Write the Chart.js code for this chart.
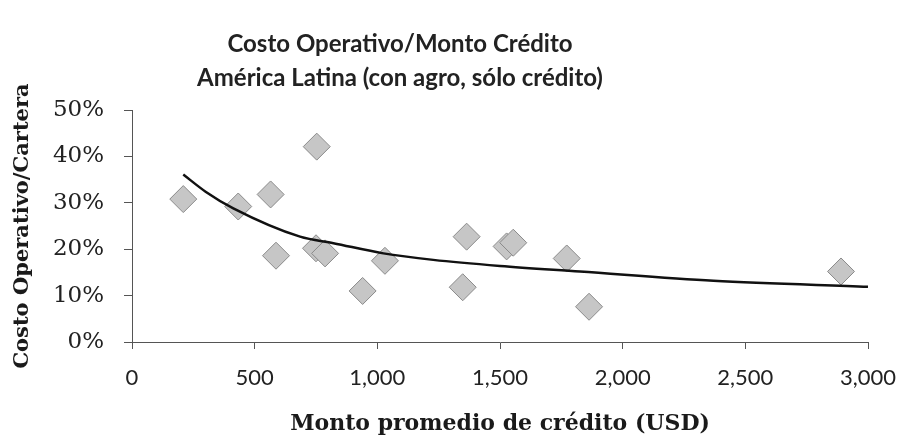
<!DOCTYPE html>
<html>
<head>
<meta charset="utf-8">
<script src="https://cdn.jsdelivr.net/npm/chart.js@4"></script>
<style>
  html, body { margin: 0; padding: 0; background: #fff; }
  #wrap { position: relative; width: 903px; height: 437px; }
</style>
</head>
<body>
<div id="wrap"><canvas id="costChart"></canvas></div>
<script>
// scatter: average loan size (USD) vs operating cost / portfolio (%)
const montoCredito = [209, 433, 565, 753, 587, 750, 787, 940, 1031, 1364, 1348, 1527, 1554, 1772, 1863, 2890];
const costoCartera = [30.8, 29.2, 31.8, 42.1, 18.6, 20.2, 19.1, 11.0, 17.5, 22.7, 11.8, 20.6, 21.4, 18.0, 7.6, 15.2];

// trend line
const trendX = [209, 300, 413, 685, 821, 1025, 1228, 1500, 1826, 2370, 3000];
const trendY = [36.1, 32.4, 28.8, 22.7, 21.3, 19.1, 17.7, 16.4, 15.2, 13.2, 11.9];

const xTicks = [0, 500, 1000, 1500, 2000, 2500, 3000];
const yTicks = [0, 10, 20, 30, 40, 50];

const titleLines = ["Costo Operativo/Monto Crédito", "América Latina (con agro, sólo crédito)"];

const points = montoCredito.map((x, i) => ({ x: x, y: costoCartera[i] }));
const trend = trendX.map((x, i) => ({ x: x, y: trendY[i] }));

// main title is not centred on the canvas in the original, so draw it here
const titlePlugin = {
  id: 'offsetTitle',
  afterDraw: (chart) => {
    const {ctx} = chart;
    ctx.save();
    ctx.fillStyle = '#222';
    ctx.font = 'bold 24px Lato';
    ctx.textAlign = 'center';
    ctx.textBaseline = 'middle';
    ctx.fillText(titleLines[0], 400, 44);
    ctx.fillText(titleLines[1], 400, 78);
    ctx.restore();
  }
};

const axisLine = '#555';

new Chart(document.getElementById('costChart'), {
  type: 'scatter',
  data: {
    datasets: [
      {
        label: 'tendencia',
        type: 'line',
        data: trend,
        borderColor: '#111',
        borderWidth: 2.5,
        pointRadius: 0,
        cubicInterpolationMode: 'monotone',
        fill: false,
        order: 0
      },
      {
        label: 'Costo Operativo/Cartera',
        data: points,
        pointStyle: 'rectRot',
        pointRadius: 13.5,
        pointHoverRadius: 13.5,
        backgroundColor: '#c6c6c6',
        borderColor: '#8a8a8a',
        borderWidth: 1,
        order: 1
      }
    ]
  },
  options: {
    responsive: true,
    maintainAspectRatio: false,
    animation: false,
    layout: {
      padding: { top: 110, right: 35, left: 0, bottom: 0 }
    },
    plugins: {
      legend: { display: false },
      tooltip: { enabled: false }
    },
    scales: {
      x: {
        type: 'linear',
        min: 0,
        max: 3000,
        afterBuildTicks: (scale) => { scale.ticks = xTicks.map(v => ({ value: v })); },
        afterFit: (scale) => {
          scale.height = 95;
          scale.paddingLeft = 0;
          scale.paddingRight = 0;
        },
        grid: {
          drawOnChartArea: false,
          drawTicks: true,
          tickLength: 7,
          color: axisLine
        },
        border: { display: true, color: axisLine, width: 1 },
        ticks: {
          color: '#222',
          padding: 16,
          font: { family: 'Lato', size: 22 },
          callback: (v) => v.toLocaleString('en-US')
        },
        title: {
          display: true,
          text: 'Monto promedio de crédito (USD)',
          color: '#1a1a1a',
          font: { family: 'DejaVu Serif', size: 22, weight: 'bold' },
          padding: { top: 2, bottom: 0 }
        }
      },
      y: {
        type: 'linear',
        min: 0,
        max: 50,
        afterBuildTicks: (scale) => { scale.ticks = yTicks.map(v => ({ value: v })); },
        afterFit: (scale) => { scale.width = 132; },
        grid: {
          drawOnChartArea: false,
          drawTicks: true,
          tickLength: 8,
          color: axisLine
        },
        border: { display: true, color: axisLine, width: 1 },
        ticks: {
          color: '#222',
          padding: 20,
          font: { family: 'DejaVu Serif', size: 23 },
          callback: (v) => v + '%'
        },
        title: {
          display: true,
          text: 'Costo Operativo/Cartera',
          color: '#1a1a1a',
          font: { family: 'DejaVu Serif', size: 21, weight: 'bold' },
          padding: { top: 10, bottom: 0 }
        }
      }
    }
  },
  plugins: [titlePlugin]
});
</script>
</body>
</html>
